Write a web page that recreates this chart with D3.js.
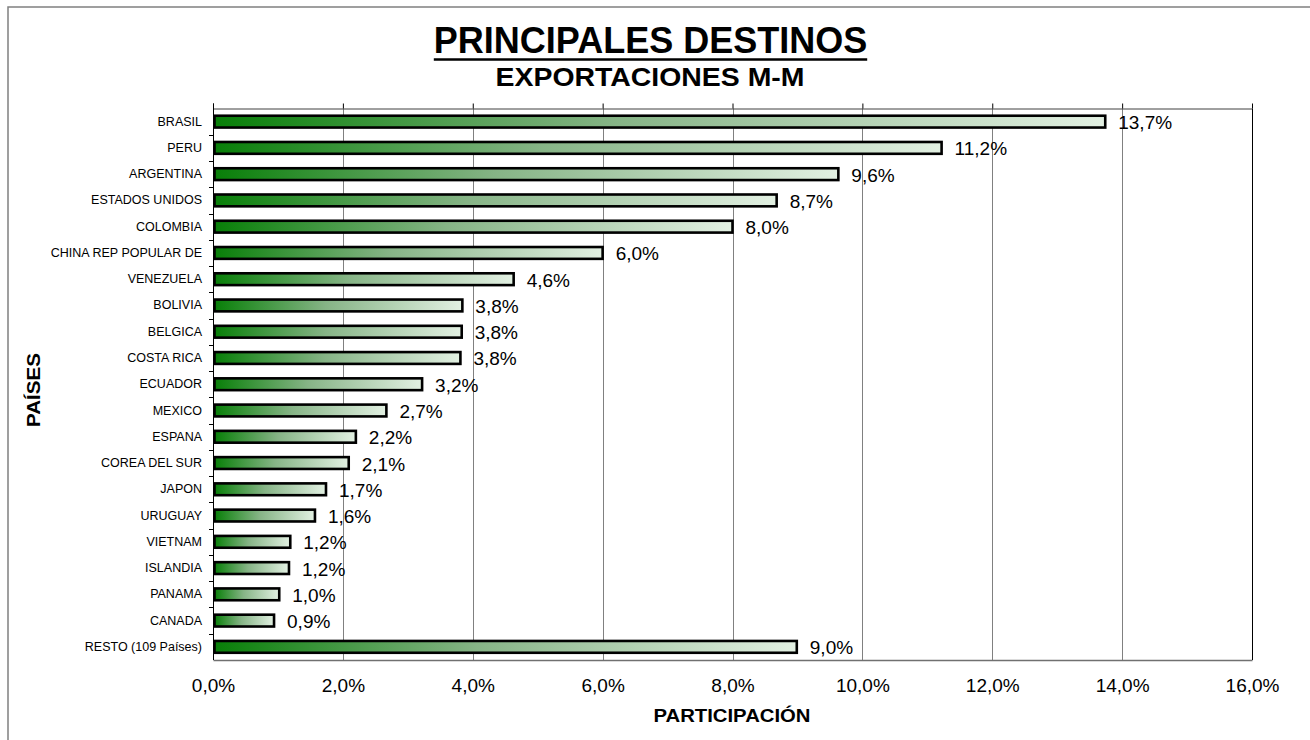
<!DOCTYPE html>
<html>
<head>
<meta charset="utf-8">
<script src="https://cdn.jsdelivr.net/npm/d3@7"></script>
<style>
   body { margin: 0; background: #fff; }
   svg { display: block; font-family: 'Liberation Sans', Arial, sans-serif; }
</style>
</head>
<body>
<div id="chart"></div>
<script>

// CATEGORIES & VALUES (SHARE OF EXPORTS)
var paises = [
   'BRASIL', 'PERU', 'ARGENTINA', 'ESTADOS UNIDOS', 'COLOMBIA', 'CHINA REP POPULAR DE',
   'VENEZUELA', 'BOLIVIA', 'BELGICA', 'COSTA RICA', 'ECUADOR', 'MEXICO', 'ESPANA',
   'COREA DEL SUR', 'JAPON', 'URUGUAY', 'VIETNAM', 'ISLANDIA', 'PANAMA', 'CANADA',
   'RESTO (109 Países)'
];
var participacion = [
   0.1374, 0.1122, 0.0963, 0.0868, 0.0800, 0.0600,
   0.0463, 0.0384, 0.0383, 0.0381, 0.0322, 0.0267, 0.0220,
   0.0209, 0.0174, 0.0157, 0.0119, 0.0117, 0.0102, 0.0094,
   0.0899
];
var xTicks = [0, 0.02, 0.04, 0.06, 0.08, 0.10, 0.12, 0.14, 0.16];

// SETTINGS
var settings = {
   width: 1310,
   height: 740,
   left: 213,
   right: 1252,
   top: 108.5,
   bottom: 660,
   grid: '#808080'
};

var fmt = d => d3.format('.1f')(d * 100).replace('.', ',') + '%';

// SCALES
var xScale = d3.scaleLinear()
   .domain([0, 0.16])
   .range([settings.left, settings.right])

var yScale = d3.scaleBand()
   .domain(paises)
   .range([settings.top, settings.bottom])
   .paddingInner(0.55)
   .paddingOuter(0.275)

// CANVAS
var canvas = d3.select('#chart').append('svg')
   .attr('width', settings.width)
   .attr('height', settings.height)

// GRADIENT
var grad = canvas.append('defs').append('linearGradient')
   .attr('id', 'verde')
   .attr('x1', '0%').attr('x2', '100%')
   .attr('y1', '0%').attr('y2', '0%')
grad.append('stop').attr('offset', '0%').attr('stop-color', '#087f08')
grad.append('stop').attr('offset', '45%').attr('stop-color', '#86b486')
grad.append('stop').attr('offset', '100%').attr('stop-color', '#e2f0e2')

// OUTER FRAME
canvas.append('rect')
   .attr('x', 8).attr('y', 7)
   .attr('width', 1400).attr('height', 800)
   .attr('fill', 'none')
   .attr('stroke', '#808080')
   .attr('stroke-width', 1.5)

// TITLES
var title = canvas.append('text')
   .attr('x', 650.5).attr('y', 53)
   .attr('text-anchor', 'middle')
   .attr('font-size', 36).attr('font-weight', 'bold')
   .text('PRINCIPALES DESTINOS')
var tw = title.node().getComputedTextLength();
canvas.append('line')
   .attr('x1', 650.5 - tw / 2).attr('x2', 650.5 + tw / 2)
   .attr('y1', 59.5).attr('y2', 59.5)
   .attr('stroke', '#000').attr('stroke-width', 2.5)

canvas.append('text')
   .attr('x', 650).attr('y', 86)
   .attr('text-anchor', 'middle')
   .attr('font-size', 26).attr('font-weight', 'bold')
   .attr('textLength', 309).attr('lengthAdjust', 'spacingAndGlyphs')
   .text('EXPORTACIONES M-M')

// GRIDLINES
canvas.selectAll('line.grid')
   .data(xTicks.slice(1, -1))
   .enter().append('line')
      .attr('class', 'grid')
      .attr('x1', d => Math.round(xScale(d)) + 0.5)
      .attr('x2', d => Math.round(xScale(d)) + 0.5)
      .attr('y1', settings.top)
      .attr('y2', settings.bottom)
      .attr('stroke', settings.grid)

// TOP AXIS (TICKS ONLY)
var topAxis = canvas.append('g')
   .attr('transform', 'translate(0,' + settings.top + ')')
   .call(d3.axisTop(xScale).tickValues(xTicks).tickSize(5).tickSizeOuter(0).tickFormat(''))
topAxis.select('.domain').attr('stroke', '#404040')

// BOTTOM AXIS
var botAxis = canvas.append('g')
   .attr('transform', 'translate(0,' + settings.bottom + ')')
   .call(d3.axisBottom(xScale).tickValues(xTicks).tickSize(0).tickSizeOuter(0).tickPadding(19).tickFormat(fmt))
botAxis.select('.domain').attr('stroke', '#707070').attr('stroke-width', 1.5)
botAxis.selectAll('text')
   .attr('font-size', 19)
   .attr('font-family', "'Liberation Sans', Arial, sans-serif")
   .attr('fill', '#000')

// RIGHT BORDER
canvas.append('line')
   .attr('x1', settings.right + 0.5).attr('x2', settings.right + 0.5)
   .attr('y1', settings.top).attr('y2', settings.bottom)
   .attr('stroke', '#000')

// LEFT AXIS
var leftAxis = canvas.append('g')
   .attr('transform', 'translate(' + settings.left + ',0)')
   .call(d3.axisLeft(yScale).tickSize(0).tickPadding(11))
leftAxis.select('.domain').remove()
leftAxis.selectAll('text')
   .attr('font-size', 12.5)
   .attr('font-family', "'Liberation Sans', Arial, sans-serif")
   .attr('fill', '#000')

// CATEGORY BOUNDARY TICKS
var gap = (yScale.step() - yScale.bandwidth()) / 2;
canvas.selectAll('line.ytick')
   .data(paises.slice(1))
   .enter().append('line')
      .attr('class', 'ytick')
      .attr('x1', settings.left - 4).attr('x2', settings.left)
      .attr('y1', d => Math.round(yScale(d) - gap) + 0.5)
      .attr('y2', d => Math.round(yScale(d) - gap) + 0.5)
      .attr('stroke', '#000')

canvas.append('line')
   .attr('x1', settings.left + 0.5).attr('x2', settings.left + 0.5)
   .attr('y1', settings.top - 5).attr('y2', settings.bottom)
   .attr('stroke', '#000')

// BARS
canvas.selectAll('rect.bar')
   .data(participacion)
   .enter().append('rect')
      .attr('class', 'bar')
      .attr('x', xScale(0) + 1.5)
      .attr('y', (d, i) => yScale(paises[i]))
      .attr('width', d => xScale(d) - xScale(0) - 1.5)
      .attr('height', yScale.bandwidth())
      .attr('fill', 'url(#verde)')
      .attr('stroke', '#000')
      .attr('stroke-width', 2.6)

// VALUE LABELS
canvas.selectAll('text.val')
   .data(participacion)
   .enter().append('text')
      .attr('class', 'val')
      .attr('x', d => xScale(d) + 13)
      .attr('y', (d, i) => yScale(paises[i]) + yScale.bandwidth() / 2 + 7.5)
      .attr('font-size', 19)
      .text(fmt)

// AXIS TITLES
canvas.append('text')
   .attr('x', 732).attr('y', 722)
   .attr('text-anchor', 'middle')
   .attr('font-size', 19).attr('font-weight', 'bold')
   .attr('textLength', 157).attr('lengthAdjust', 'spacingAndGlyphs')
   .text('PARTICIPACIÓN')

canvas.append('text')
   .attr('transform', 'translate(40,390) rotate(-90)')
   .attr('text-anchor', 'middle')
   .attr('font-size', 19).attr('font-weight', 'bold')
   .attr('textLength', 74).attr('lengthAdjust', 'spacingAndGlyphs')
   .text('PAÍSES')

</script>
</body>
</html>
